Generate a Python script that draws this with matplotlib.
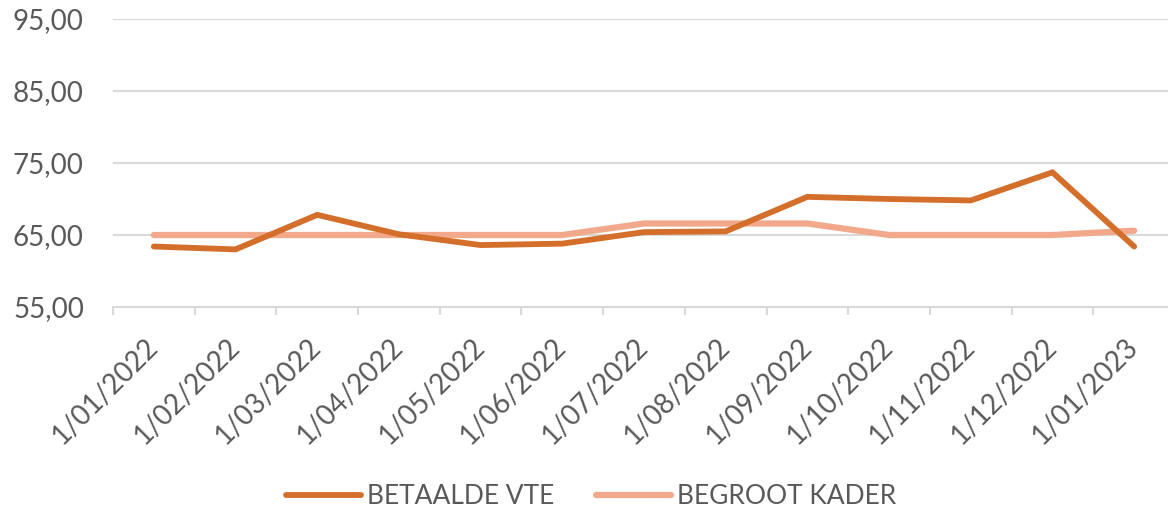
import matplotlib
matplotlib.use("Agg")
import matplotlib.pyplot as plt
import numpy as np

categories = ["1/01/2022", "1/02/2022", "1/03/2022", "1/04/2022", "1/05/2022",
              "1/06/2022", "1/07/2022", "1/08/2022", "1/09/2022", "1/10/2022",
              "1/11/2022", "1/12/2022", "1/01/2023"]
betaalde_vte = [63.4, 63.0, 67.8, 65.1, 63.6, 63.8, 65.4, 65.5, 70.3, 70.0, 69.8, 73.7, 63.4]
begroot_kader = [65.0, 65.0, 65.0, 65.0, 65.0, 65.0, 66.6, 66.6, 66.6, 65.0, 65.0, 65.0, 65.6]
y_ticks = [55, 65, 75, 85, 95]
series_names = ["BETAALDE VTE", "BEGROOT KADER"]

plt.rcParams['font.family'] = ['Lato', 'DejaVu Sans']
text_color = "#595959"
grid_color = "#D9D9D9"
dark = "#D46F2B"
light = "#F2A98B"

fig = plt.figure(figsize=(11.68, 5.12), dpi=100)
ax = fig.add_axes([113/1168, (512-307)/512, 1062/1168, 288/512])

x = np.arange(1, len(categories) + 1)
ax.plot(x, betaalde_vte, color=dark, lw=4.2, solid_capstyle='round', solid_joinstyle='miter', label=series_names[0], zorder=3)
ax.plot(x, begroot_kader, color=light, lw=4.5, solid_capstyle='round', solid_joinstyle='miter', label=series_names[1], zorder=2)

ax.set_xlim(0.5, len(categories) + 0.5)
ax.set_ylim(55, 95)
ax.set_yticks(y_ticks)
ax.set_yticklabels([f"{v:.2f}".replace(".", ",") for v in y_ticks])
ax.yaxis.grid(True, color=grid_color, lw=1.5)
ax.set_axisbelow(True)
ax.tick_params(axis='y', length=0, pad=21, labelsize=20, labelcolor=text_color)

ax.set_xticks(np.arange(0.5, len(categories) + 1, 1.0))
ax.set_xticklabels([])
ax.tick_params(axis='x', which='major', length=6, width=1.5, color=grid_color, direction='out')
ax.set_xticks(x, minor=True)
ax.set_xticklabels(categories, minor=True, rotation=45, ha='right', va='center', rotation_mode='anchor')
ax.tick_params(axis='x', which='minor', length=0, pad=26, labelsize=20, labelcolor=text_color)

for s in ['top', 'right', 'left']:
    ax.spines[s].set_visible(False)
ax.spines['bottom'].set_color(grid_color)
ax.spines['bottom'].set_linewidth(1.5)

fig.legend(loc='center', bbox_to_anchor=(591/1168, 1 - 497/512), ncol=2, frameon=False,
           fontsize=19, labelcolor=text_color, handlelength=2.85, handletextpad=0.2,
           columnspacing=1.6)

fig.savefig("out.png", dpi=100)
